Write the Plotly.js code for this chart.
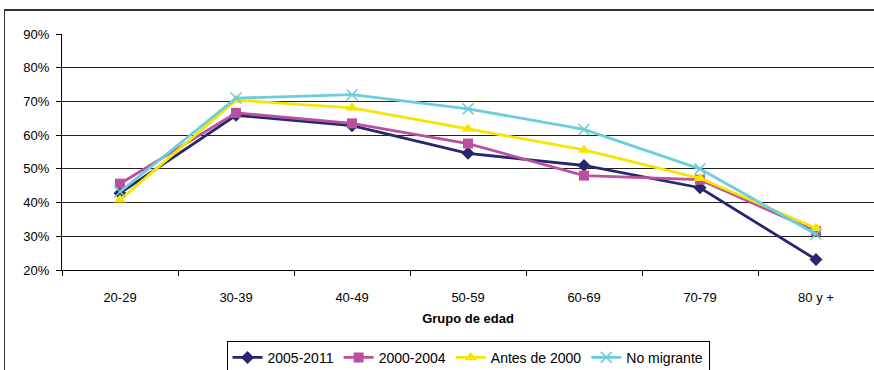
<!DOCTYPE html>
<html>
<head>
<meta charset="utf-8">
<script src="https://cdn.plot.ly/plotly-3.0.1.min.js"></script>
<style>
  html, body { margin: 0; padding: 0; background: #fff; overflow: hidden; }
  #wrap { position: relative; width: 874px; height: 370px; overflow: hidden; }
  #chart { position: absolute; left: 0; top: 0; width: 874px; height: 370px; }
  #frame { position: absolute; left: 4px; top: 9px; width: 900px; height: 400px;
           border-left: 1px solid #333; border-top: 2px solid #333; pointer-events: none; }
</style>
</head>
<body>
<div id="wrap">
  <div id="chart"></div>
  <div id="frame"></div>
</div>
<script>
const categories = ["20-29", "30-39", "40-49", "50-59", "60-69", "70-79", "80 y +"];
const s2005_2011 = [42.8, 65.9, 62.8, 54.6, 51.0, 44.4, 23.1];
const s2000_2004 = [45.6, 66.6, 63.5, 57.5, 48.0, 46.8, 31.5];
const sAntes2000 = [40.8, 70.4, 68.1, 61.8, 55.6, 47.2, 32.4];
const sNoMigrante = [43.2, 71.0, 72.0, 67.8, 61.7, 50.0, 30.6];
const yTickVals = [20, 30, 40, 50, 60, 70, 80, 90];
const yTickText = ["20%", "30%", "40%", "50%", "60%", "70%", "80%", "90%"];

const font = "Liberation Sans, Arial, sans-serif";

function tr(name, y, color, symbol, size) {
  return {
    type: "scatter", mode: "lines+markers", name: name,
    x: categories, y: y,
    line: { color: color, width: 2.8 },
    marker: { color: color, symbol: symbol, size: size,
              line: { color: color, width: symbol === "x-thin" ? 1.5 : 0 } },
    cliponaxis: false
  };
}

const data = [
  tr("2005-2011", s2005_2011, "#27276F", "diamond", 10),
  tr("2000-2004", s2000_2004, "#BB4FA0", "square", 10),
  tr("Antes de 2000", sAntes2000, "#F5E600", "triangle-up", 11),
  tr("No migrante", sNoMigrante, "#6CCEDC", "x-thin", 11)
];

const layout = {
  width: 874, height: 370,
  margin: { l: 62, r: 0, t: 34, b: 100, autoexpand: false },
  paper_bgcolor: "rgba(0,0,0,0)",
  plot_bgcolor: "#fff",
  font: { family: font, size: 13, color: "#000" },
  showlegend: true,
  legend: {
    orientation: "h", x: 0.5, xanchor: "center", y: -0.3, yanchor: "top",
    bordercolor: "#000", borderwidth: 1, bgcolor: "#fff",
    font: { family: font, size: 14, color: "#000" },
    itemwidth: 30, tracegroupgap: 0
  },
  xaxis: {
    type: "category",
    range: [-0.5, 6.5],
    showgrid: false, automargin: false,
    showline: true, linecolor: "#000", linewidth: 1,
    ticks: "outside", ticklen: 5, tickcolor: "#000", tickson: "boundaries",
    ticklabelstandoff: 15,
    tickfont: { family: font, size: 13, color: "#000" },
    title: { text: "<b>Grupo de edad</b>", font: { family: font, size: 13, color: "#000" }, standoff: 10 },
    zeroline: false, fixedrange: true
  },
  yaxis: {
    range: [20, 90], automargin: false,
    tickvals: yTickVals, ticktext: yTickText,
    showgrid: true, gridcolor: "#222", gridwidth: 1,
    showline: true, linecolor: "#000", linewidth: 1,
    ticks: "outside", ticklen: 5, tickcolor: "#000",
    ticklabelstandoff: 4,
    tickfont: { family: font, size: 13, color: "#000" },
    zeroline: false, fixedrange: true
  }
};

Plotly.newPlot("chart", data, layout, { staticPlot: true, displayModeBar: false });
</script>
</body>
</html>
